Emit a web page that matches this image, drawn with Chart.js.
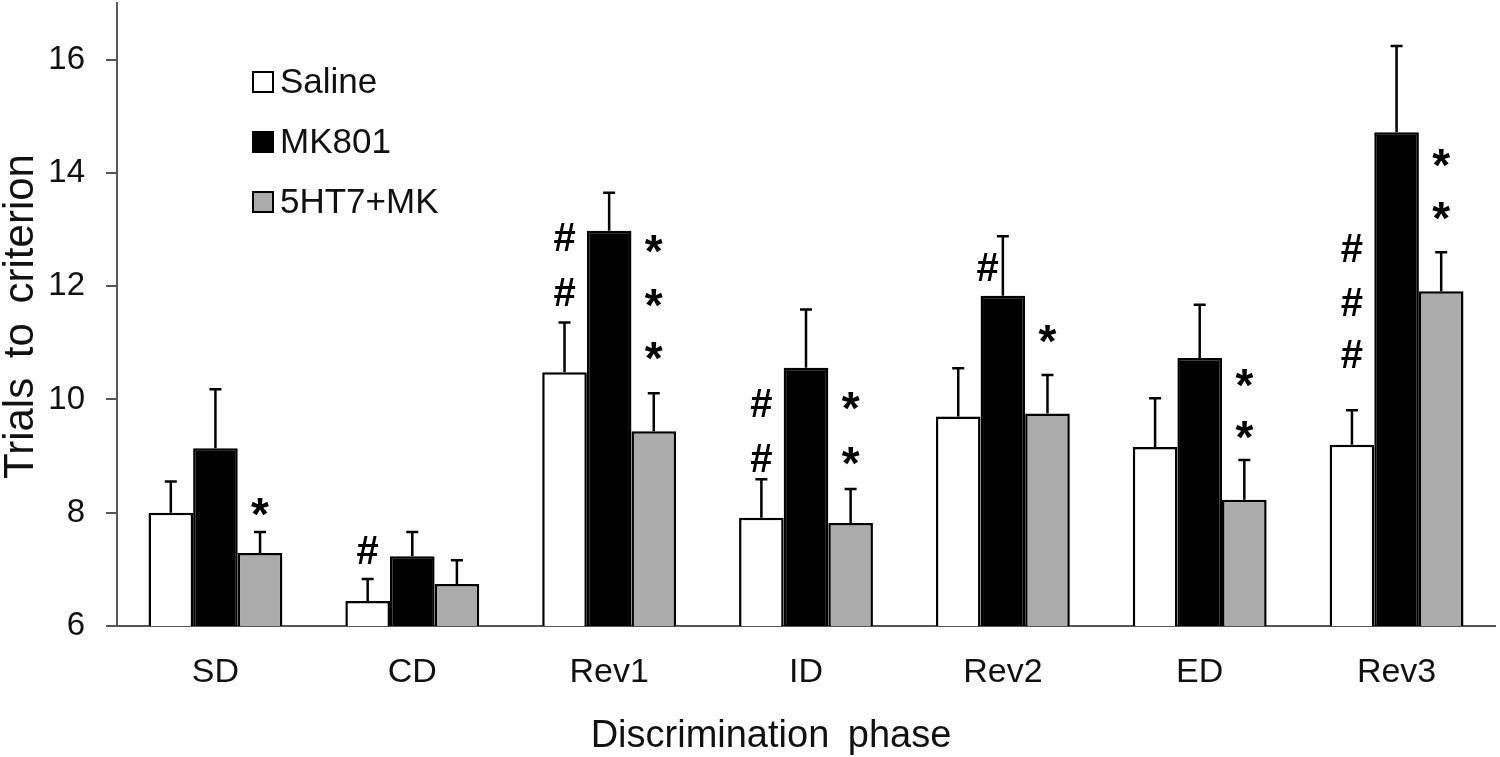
<!DOCTYPE html>
<html lang="en">
<head>
    <meta charset="UTF-8">
    <title>Trials to criterion</title>
    <script src="https://cdn.jsdelivr.net/npm/chart.js"></script>
    <style>
        body { margin: 0; background: #fff; }
        .chart-box { position: relative; width: 1500px; height: 757px; }
    </style>
</head>
<body>
<div class="chart-box">
    <canvas id="trialsChart"></canvas>
</div>

<script>
// data
const phases = ['SD', 'CD', 'Rev1', 'ID', 'Rev2', 'ED', 'Rev3'];
const yTicks = [6, 8, 10, 12, 14, 16];

const saline    = [8.00, 6.44, 10.48, 7.91, 9.70, 9.16, 9.20];
const salineErr = [0.55, 0.39, 0.88, 0.68, 0.85, 0.86, 0.61];
const mk801     = [9.14, 7.23, 12.98, 10.56, 11.83, 10.73, 14.72];
const mk801Err  = [1.04, 0.43, 0.67, 1.03, 1.05, 0.94, 1.52];
const ht7mk     = [7.29, 6.74, 9.44, 7.82, 9.75, 8.23, 11.91];
const ht7mkErr  = [0.37, 0.42, 0.67, 0.60, 0.68, 0.70, 0.69];

// significance marks: levels (in trials) per phase
const hashLevels = [[], [7.34], [12.86, 11.89], [9.93, 8.96], [12.34], [], [12.68, 11.72, 10.80]];
const starLevels = [[8.17], [], [12.81, 11.87, 10.92], [10.04, 9.07], [11.22], [10.45, 9.53], [14.33, 13.40]];

const xTitle = 'Discrimination phase';
const yTitle = 'Trials to criterion';

const FONT = "'Liberation Sans', Arial, sans-serif";
const errors = [salineErr, mk801Err, ht7mkErr];

// error bars, # and * marks, legend, axis titles
const extras = {
    id: 'extras',
    afterDatasetsDraw(chart) {
        const ctx = chart.ctx;
        const y = chart.scales.y;
        const area = chart.chartArea;
        ctx.save();

        // error bars (upper only)
        ctx.strokeStyle = '#000';
        ctx.lineWidth = 2.5;
        chart.data.datasets.forEach((ds, di) => {
            chart.getDatasetMeta(di).data.forEach((bar, i) => {
                const yTop = y.getPixelForValue(ds.data[i] + errors[di][i]);
                ctx.beginPath();
                ctx.moveTo(bar.x, bar.y);
                ctx.lineTo(bar.x, yTop);
                ctx.moveTo(bar.x - 6, yTop);
                ctx.lineTo(bar.x + 6, yTop);
                ctx.stroke();
            });
        });

        // marks
        ctx.fillStyle = '#000';
        ctx.textAlign = 'center';
        ctx.textBaseline = 'alphabetic';
        const salBars = chart.getDatasetMeta(0).data;
        const mkBars = chart.getDatasetMeta(1).data;
        const htBars = chart.getDatasetMeta(2).data;
        ctx.font = 'bold 40px ' + FONT;
        hashLevels.forEach((levels, i) => {
            // Rev2 mark sits next to the MK801 error bar
            const x = phases[i] === 'Rev2' ? (salBars[i].x + mkBars[i].x) / 2 + 7 : salBars[i].x;
            levels.forEach(v => ctx.fillText('#', x, y.getPixelForValue(v) + 14));
        });
        ctx.font = 'bold 46px ' + FONT;
        starLevels.forEach((levels, i) => {
            levels.forEach(v => ctx.fillText('*', htBars[i].x, y.getPixelForValue(v) + 27));
        });

        // legend inside plot
        ctx.font = '35px ' + FONT;
        ctx.textAlign = 'left';
        ctx.textBaseline = 'middle';
        chart.data.datasets.forEach((ds, di) => {
            const cy = area.top + 79 + di * 60;
            const bx = area.left + 136;
            ctx.fillStyle = ds.backgroundColor;
            ctx.fillRect(bx, cy - 10, 20, 20);
            ctx.lineWidth = 2;
            ctx.strokeStyle = '#000';
            ctx.strokeRect(bx, cy - 10, 20, 20);
            ctx.fillStyle = '#111';
            ctx.fillText(ds.label, bx + 27, cy + 1);
        });

        // axis titles
        ctx.fillStyle = '#111';
        ctx.textAlign = 'center';
        ctx.textBaseline = 'alphabetic';
        if ('wordSpacing' in ctx) ctx.wordSpacing = '8px';
        ctx.font = '38px ' + FONT;
        ctx.fillText(xTitle, area.left + 654, 747);
        ctx.font = '42px ' + FONT;
        ctx.translate(33, (area.top + area.bottom) / 2 + 2);
        ctx.rotate(-Math.PI / 2);
        ctx.fillText(yTitle, 0, 0);
        ctx.restore();
    }
};

new Chart(document.getElementById('trialsChart'), {
    type: 'bar',
    data: {
        labels: phases,
        datasets: [
            { label: 'Saline', data: saline, backgroundColor: '#ffffff' },
            { label: 'MK801', data: mk801, backgroundColor: '#000000' },
            { label: '5HT7+MK', data: ht7mk, backgroundColor: '#ababab' }
        ]
    },
    options: {
        responsive: true,
        maintainAspectRatio: false,
        animation: false,
        layout: { padding: { top: 3, right: 5, left: 0, bottom: 0 } },
        datasets: {
            bar: {
                borderColor: '#000',
                borderWidth: 2.5,
                barPercentage: 1.0,
                categoryPercentage: 0.68
            }
        },
        plugins: {
            legend: { display: false },
            tooltip: { enabled: false }
        },
        scales: {
            x: {
                afterFit: s => { s.height = 131; },
                grid: { display: false, drawTicks: false },
                border: { display: true, color: '#555', width: 2 },
                ticks: { padding: 26, color: '#111', font: { family: FONT, size: 34 } }
            },
            y: {
                min: 6,
                max: 17,
                afterBuildTicks: s => { s.ticks = yTicks.map(v => ({ value: v })); },
                afterFit: s => { s.width = 117; s.paddingTop = 0; s.paddingBottom = 0; },
                grid: { drawOnChartArea: false, drawTicks: true, tickLength: 11, color: '#555', lineWidth: 2 },
                border: { display: true, color: '#555', width: 2 },
                ticks: { padding: 21, color: '#111', font: { family: FONT, size: 33 } }
            }
        }
    },
    plugins: [extras]
});
</script>
</body>
</html>
